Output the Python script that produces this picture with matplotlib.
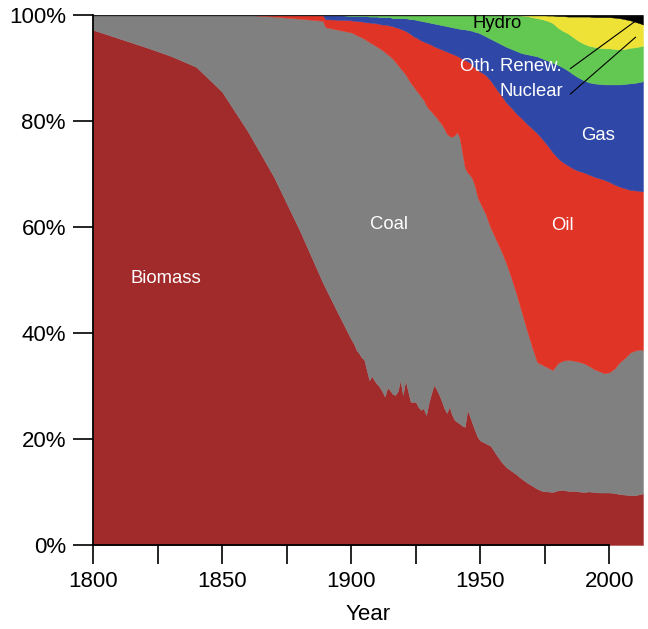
import matplotlib
matplotlib.use("Agg")
import matplotlib.pyplot as plt
import numpy as np

plt.rcParams["font.family"] = ["Liberation Sans", "DejaVu Sans"]

# Share of world primary energy by source (%)
years = [1800, 1810, 1820, 1830, 1840, 1850, 1860, 1870, 1880, 1889, 1890, 1895,
         1900, 1901, 1902, 1903, 1904, 1905, 1906, 1907, 1908, 1909,
         1910, 1911, 1912, 1913, 1914, 1915, 1916, 1917, 1918, 1919,
         1920, 1921, 1922, 1923, 1924, 1925, 1926, 1927, 1928, 1929,
         1930, 1931, 1932, 1933, 1934, 1935, 1936, 1937, 1938, 1939,
         1940, 1941, 1942, 1943, 1944, 1945, 1946, 1947, 1948, 1949, 1950,
         1952, 1954, 1956, 1958, 1960, 1962, 1964, 1966, 1968, 1970,
         1972, 1974, 1976, 1978, 1980, 1982, 1984, 1986, 1988, 1990,
         1992, 1994, 1996, 1998, 2000, 2002, 2004, 2006, 2008, 2010, 2012, 2013]

biomass = [97.2, 95.6, 94.0, 92.3, 90.2, 85.5, 78.0, 69.5, 59.4, 49.5, 48.5, 43.6,
           38.8, 38.0, 36.8, 36.2, 35.4, 35.0, 33.0, 31.1, 31.9, 31.0,
           30.4, 29.8, 29.0, 28.0, 29.7, 29.2, 28.5, 28.3, 29.0, 31.1,
           28.3, 31.1, 29.0, 27.0, 27.0, 27.0, 26.0, 25.5, 25.8, 24.5,
           26.8, 28.6, 30.2, 29.4, 28.4, 27.2, 25.8, 24.9, 26.1, 24.6,
           23.6, 23.2, 22.9, 22.5, 22.3, 25.5, 24.2, 22.8, 21.5, 20.3, 19.7,
           19.2, 18.7, 17.2, 15.8, 14.7, 14.0, 13.3, 12.5, 11.8, 11.2,
           10.6, 10.2, 10.1, 10.0, 10.3, 10.4, 10.2, 10.2, 10.1, 10.0,
           10.1, 10.0, 9.9, 9.9, 9.9, 9.8, 9.6, 9.5, 9.4, 9.4, 9.6, 9.7]

coal = [2.8, 4.4, 6.0, 7.7, 9.8, 14.5, 22.0, 30.2, 39.9, 49.4, 49.2, 53.6,
        57.9, 58.5, 59.4, 59.8, 60.4, 60.5, 62.2, 63.8, 62.7, 63.3,
        63.6, 63.9, 64.4, 65.0, 62.9, 63.0, 63.3, 62.9, 61.6, 58.9,
        61.1, 57.7, 59.0, 60.2, 59.6, 58.9, 59.3, 59.1, 58.2, 58.5,
        55.5, 53.2, 51.0, 51.3, 51.6, 52.2, 52.8, 52.7, 51.1, 52.4,
        53.7, 54.7, 53.9, 51.5, 48.9, 44.8, 45.6, 46.2, 46.0, 45.2, 44.8,
        43.3, 41.1, 40.5, 39.8, 38.5, 36.4, 34.0, 31.5, 28.8, 26.2,
        23.9, 23.8, 23.4, 23.0, 24.0, 24.4, 24.7, 24.6, 24.5, 24.3,
        23.7, 23.2, 22.9, 22.5, 22.7, 23.5, 24.9, 25.8, 26.9, 27.3, 27.3, 27.1]

oil = [0.0, 0.0, 0.0, 0.0, 0.0, 0.0, 0.0, 0.3, 0.7, 1.1, 1.5, 1.9,
       2.3, 2.4, 2.7, 2.8, 3.0, 3.2, 3.4, 3.7, 3.9, 4.2,
       4.4, 4.6, 4.8, 5.2, 5.5, 5.8, 6.1, 6.5, 7.0, 7.4,
       7.8, 8.2, 8.7, 9.2, 9.4, 9.9, 10.2, 10.6, 11.0, 11.8,
       12.3, 12.6, 12.9, 13.2, 13.7, 14.1, 14.7, 15.5, 15.7, 15.7,
       15.2, 14.4, 15.2, 17.7, 20.3, 21.0, 21.2, 21.5, 22.5, 24.1, 24.8,
       26.2, 27.8, 28.5, 29.3, 30.3, 32.1, 34.1, 36.5, 38.9, 41.2,
       43.2, 42.6, 41.9, 41.1, 38.7, 37.4, 36.7, 36.2, 36.0, 36.0,
       36.1, 36.3, 36.4, 36.5, 35.9, 34.7, 33.1, 32.0, 30.7, 30.2, 29.9, 29.9]

gas = [0.0, 0.0, 0.0, 0.0, 0.0, 0.0, 0.0, 0.0, 0.0, 0.0, 0.8, 0.9,
       0.8, 0.9, 0.9, 1.0, 1.0, 1.1, 1.2, 1.1, 1.2, 1.2,
       1.3, 1.3, 1.4, 1.4, 1.5, 1.6, 1.5, 1.7, 1.8, 2.0,
       2.2, 2.4, 2.6, 2.8, 3.2, 3.3, 3.5, 3.7, 3.8, 3.9,
       4.0, 4.1, 4.3, 4.4, 4.5, 4.6, 4.7, 4.8, 4.9, 5.0,
       5.1, 5.2, 5.4, 5.6, 5.8, 5.9, 6.1, 6.5, 6.8, 7.1, 7.2,
       7.3, 7.9, 8.8, 9.6, 10.5, 11.1, 11.8, 12.3, 13.1, 13.8,
       14.5, 15.2, 16.0, 16.9, 17.6, 17.9, 17.9, 17.8, 17.6, 17.4,
       17.4, 17.6, 17.8, 18.0, 18.4, 18.9, 19.3, 19.7, 20.1, 20.3, 20.6, 20.8]

hydro = [0.0] * 12 + [
    0.2, 0.2, 0.2, 0.2, 0.2, 0.2, 0.2, 0.3, 0.3, 0.3,
    0.3, 0.4, 0.4, 0.4, 0.4, 0.4, 0.6, 0.6, 0.6, 0.6,
    0.6, 0.6, 0.7, 0.8, 0.8, 0.9, 1.0, 1.1, 1.2, 1.3,
    1.4, 1.5, 1.6, 1.7, 1.8, 1.9, 2.0, 2.1, 2.2, 2.3,
    2.4, 2.5, 2.6, 2.7, 2.7, 2.8, 2.9, 3.0, 3.2, 3.3, 3.5,
    4.0, 4.5, 5.0, 5.5, 6.0, 6.4, 6.8, 7.1, 7.2, 7.2,
    7.2, 7.4, 7.5, 7.5, 7.0, 6.9, 7.0, 7.0, 6.9, 6.9,
    6.9, 6.9, 6.8, 6.8, 6.8, 6.7, 6.6, 6.6, 6.7, 6.7, 6.7, 6.7]

nuclear = [0.0] * 63 + [
    0.0, 0.0, 0.0, 0.0, 0.0, 0.0, 0.0, 0.1, 0.2, 0.4,
    0.6, 0.8, 1.0, 1.4, 2.2, 2.8, 3.2, 3.9, 4.6, 5.1,
    5.5, 5.6, 5.8, 5.9, 5.9, 5.9, 5.9, 5.6, 5.2, 4.8, 4.3, 4.0]

other_renew = [0.0] * 63 + [
    0.0, 0.0, 0.0, 0.0, 0.0, 0.0, 0.0, 0.0, 0.0, 0.0,
    0.0, 0.0, 0.1, 0.1, 0.2, 0.2, 0.3, 0.3, 0.3, 0.3,
    0.3, 0.4, 0.4, 0.4, 0.4, 0.5, 0.6, 0.8, 1.0, 1.3, 1.6, 1.8]

colors = ["#A12A2B", "#808080", "#E03426", "#2F47A6", "#62C851", "#EDE235", "#000000"]

W, H = 648, 629
fig = plt.figure(figsize=(W / 100, H / 100), dpi=100)
ax = fig.add_axes([93 / W, 1 - 545 / H, (643 - 93) / W, 530 / H])

series = [biomass, coal, oil, gas, hydro, nuclear, other_renew]
ax.stackplot(years, *series, colors=colors, linewidth=0.3, edgecolor="face")
total = np.sum(np.array(series), axis=0)
ax.plot(years, total, color="#222222", lw=1.0)

ax.set_xlim(1800, 2013)
ax.set_ylim(0, 100)

for side in ("top", "right"):
    ax.spines[side].set_visible(False)
ax.spines["left"].set_bounds(0, 100)
ax.spines["bottom"].set_bounds(1800, 2000)
for side in ("left", "bottom"):
    ax.spines[side].set_linewidth(1.3)
    ax.spines[side].set_zorder(5)

xticks = [1800, 1825, 1850, 1875, 1900, 1925, 1950, 1975, 2000]
xlabels = ["1800", "", "1850", "", "1900", "", "1950", "", "2000"]
ax.set_xticks(xticks)
ax.set_xticklabels(xlabels)
yticks = [0, 20, 40, 60, 80, 100]
ax.set_yticks(yticks)
ax.set_yticklabels([f"{v}%" for v in yticks])
ax.tick_params(axis="x", length=14, width=1.2, pad=5, labelsize=16)
ax.tick_params(axis="y", length=14.5, width=1.2, pad=5, labelsize=16)
ax.set_xlabel("Year", fontsize=16, labelpad=8)

lab = dict(fontsize=13.3, ha="center", va="center")
ax.text(1828.3, 50.2, "Biomass", color="white", **lab)
ax.text(1914.7, 60.4, "Coal", color="white", **lab)
ax.text(1981.8, 60.2, "Oil", color="white", **lab)
ax.text(1995.7, 77.2, "Gas", color="white", **lab)
ax.text(1956.5, 98.4, "Hydro", color="black", **lab)
ax.text(1961.8, 90.2, "Oth. Renew.", color="white", **lab)
ax.text(1969.6, 85.6, "Nuclear", color="white", **lab)

ax.plot([1984.9, 2010.5], [89.9, 99.0], color="black", lw=0.8)
ax.plot([1984.9, 2010.1], [85.1, 95.8], color="black", lw=0.8)

fig.savefig("out.png", dpi=100)
